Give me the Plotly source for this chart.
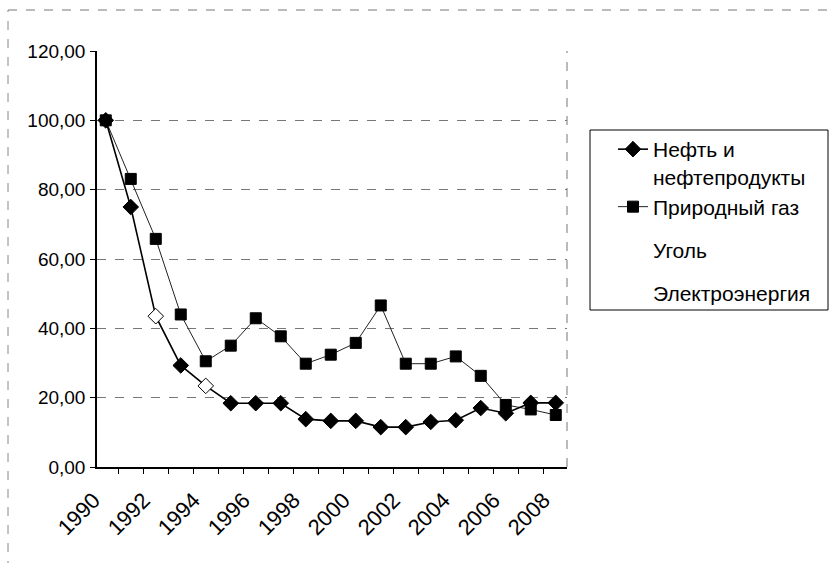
import plotly.graph_objects as go

years = list(range(1990, 2009))
oil = [100, 75.0, 43.5, 29.3, 23.4, 18.4, 18.4, 18.4, 13.8, 13.3, 13.3, 11.5, 11.5, 13.0, 13.5, 17.0, 15.5, 18.5, 18.5]
gas = [100, 83.1, 65.8, 44.0, 30.5, 35.0, 42.9, 37.7, 29.8, 32.4, 35.8, 46.6, 29.8, 29.8, 31.9, 26.3, 17.9, 16.6, 15.0]
coal = [100, 98, 95, 92, 91, 90, 89, 88, 86, 85, 84, 83, 84, 86, 88, 91, 92, 93, 93]
elec = [100, 99, 97, 95, 93, 91, 90, 89, 88, 87, 85, 84, 83, 82, 82, 81, 81, 82, 82]
names = ["Нефть и<br>нефтепродукты", "Природный газ", "Уголь", "Электроэнергия"]
ytick_vals = [0, 20, 40, 60, 80, 100, 120]
xtick_vals = list(range(1990, 2009, 2))

oil_colors = ["white" if i in (2, 4) else "black" for i in range(len(years))]

# plot area in px
L, R, T, B = 97, 567, 51, 467
W, H = 832, 563
def px(xp):
    return (xp - L) / (R - L)
def py(yp):
    return (B - yp) / (B - T)

legend_x_px = 613
item_centers = [163, 207, 250, 293]

fig = go.Figure()
fig.add_trace(go.Scatter(x=years, y=coal, name=names[2], mode="lines",
                         line=dict(color="white", width=1), legend="legend3"))
fig.add_trace(go.Scatter(x=years, y=elec, name=names[3], mode="lines",
                         line=dict(color="white", width=1), legend="legend4"))
fig.add_trace(go.Scatter(x=years, y=gas, name=names[1], mode="lines+markers",
                         line=dict(color="#222", width=1),
                         marker=dict(symbol="square", size=11, color="black",
                                     line=dict(color="black", width=1)),
                         legend="legend2"))
fig.add_trace(go.Scatter(x=years, y=oil, name=names[0], mode="lines+markers",
                         line=dict(color="black", width=1.6),
                         marker=dict(symbol="diamond", size=12, color=oil_colors,
                                     line=dict(color="black", width=1)),
                         legend="legend"))

def leg(yc):
    return dict(x=px(legend_x_px), xanchor="left", y=py(yc), yanchor="middle",
                bgcolor="rgba(0,0,0,0)", borderwidth=0, font=dict(size=21),
                valign="top")

fig.update_layout(
    width=W, height=H,
    margin=dict(l=L, r=W - R, t=T, b=H - B),
    paper_bgcolor="white", plot_bgcolor="white",
    separators=", ",
    font=dict(family="Liberation Sans, Arial, sans-serif", size=20, color="black"),
    showlegend=True,
    legend=leg(item_centers[0]),
    legend2=leg(item_centers[1]),
    legend3=leg(item_centers[2]),
    legend4=leg(item_centers[3]),
    xaxis=dict(range=[1989.65, 2008.45], tickvals=xtick_vals,
               ticktext=[str(y) for y in xtick_vals], tickangle=-45,
               ticks="", showgrid=False, zeroline=False,
               showline=True, linecolor="black", linewidth=1.5,
               ticklabelshift=-12, ticklabelstandoff=10,
               minor=dict(tickmode="array", tickvals=[y - 0.5 for y in range(1991, 2009)],
                          ticks="outside", ticklen=5, tickcolor="black", showgrid=False),
               tickfont=dict(size=22)),
    yaxis=dict(range=[0, 120], tickvals=ytick_vals, tickformat=".2f",
               ticks="outside", ticklen=5, tickcolor="black",
               showgrid=True, gridcolor="#777", griddash="dash", gridwidth=1,
               zeroline=False, showline=True, linecolor="black", linewidth=1.5,
               ticklabelstandoff=1,
               tickfont=dict(size=19)),
    shapes=[
        dict(type="line", xref="paper", yref="paper", x0=1, x1=1, y0=0, y1=1,
             line=dict(color="#777", width=1, dash="dash")),
        dict(type="line", xref="paper", yref="paper", x0=px(8), x1=px(840), y0=py(10), y1=py(10),
             line=dict(color="#777", width=1, dash="dash")),
        dict(type="line", xref="paper", yref="paper", x0=px(8), x1=px(8), y0=py(570), y1=py(10),
             line=dict(color="#888", width=1, dash="dash")),
        dict(type="rect", xref="paper", yref="paper", x0=px(590), x1=px(828), y0=py(310), y1=py(130),
             line=dict(color="black", width=1), fillcolor="rgba(0,0,0,0)"),
    ],
)

fig.write_html("out.html", config={"displayModeBar": False},
               post_script="document.body.style.margin='0';document.body.style.overflow='hidden';")
